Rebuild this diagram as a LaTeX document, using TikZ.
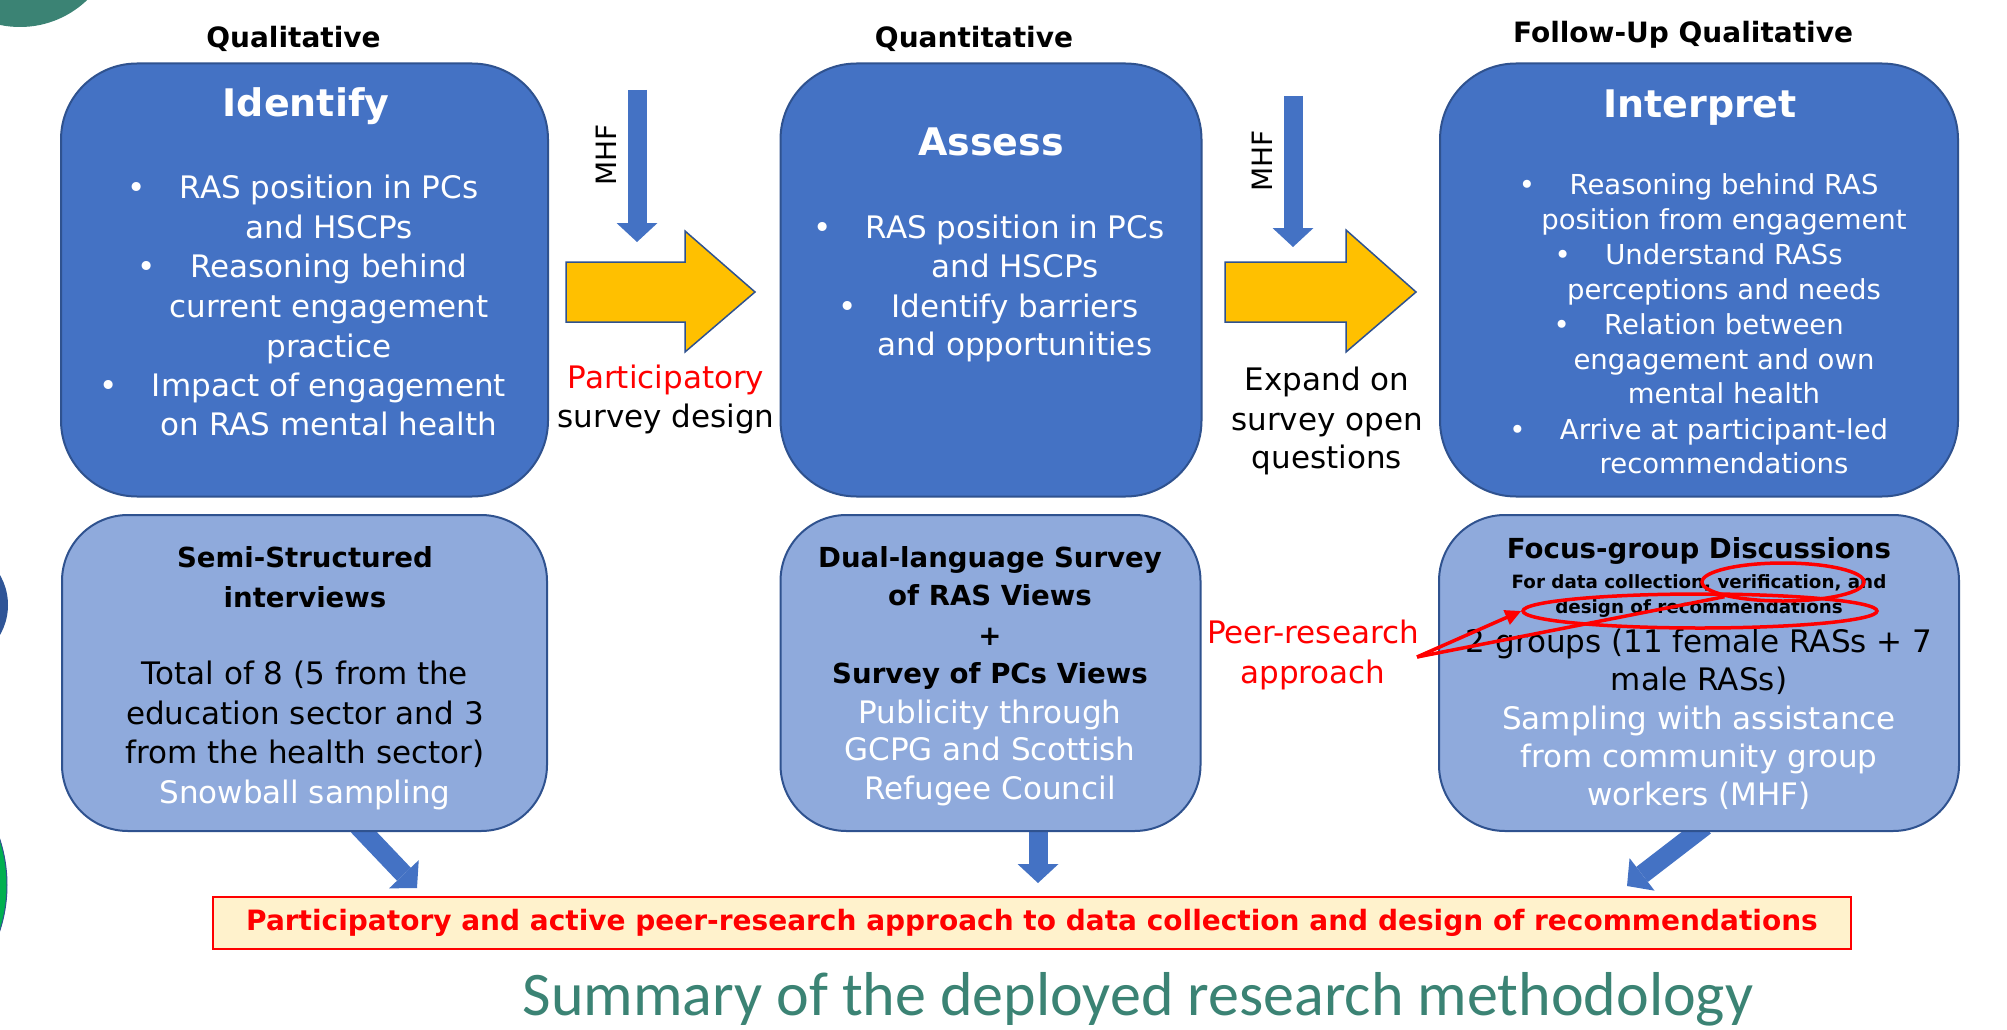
\documentclass[tikz,border=0pt]{standalone}
\usepackage{fontspec}
\setmainfont{DejaVu Sans}
\newfontfamily\carl{Carlito}
\usetikzlibrary{shapes.geometric,arrows.meta}
\definecolor{topblue}{HTML}{4472C4}
\definecolor{botblue}{HTML}{8FAADC}
\definecolor{edgeblue}{HTML}{2F528F}
\definecolor{gold}{HTML}{FFC000}
\definecolor{cream}{HTML}{FFF2CC}
\definecolor{tealc}{HTML}{3B8374}
\definecolor{pred}{HTML}{FF0000}
\definecolor{darkblue}{HTML}{2F5597}
\definecolor{greenc}{HTML}{00B050}
\newcommand\fs[1]{\fontsize{#1}{#1}\selectfont}
\tikzset{
 topbox/.style={draw=edgeblue, line width=2pt, fill=topblue, rounded corners=76pt, inner sep=0pt},
 botbox/.style={draw=edgeblue, line width=2pt, fill=botblue, rounded corners=66pt, inner sep=0pt},
 tx/.style={inner sep=0pt, anchor=base},
 wbody/.style={tx, text=white, font=\fs{31}},
 kbody/.style={tx, text=black, font=\fs{31}},
 ibody/.style={tx, text=white, font=\fs{27.5}},
 wtitle/.style={tx, text=white, font=\fs{38}\bfseries},
 headtxt/.style={tx, text=black, font=\fs{28}\bfseries},
 kbold/.style={tx, text=black, font=\fs{27.6}\bfseries},
 ksmall/.style={tx, text=black, font=\fs{18.3}\bfseries},
 rbody/.style={tx, text=pred, font=\fs{31}},
 bul/.style={tx, anchor=base east, xshift=-34pt},
 yarrow/.style={draw=edgeblue, line width=1.5pt, fill=gold, line join=miter},
 barrow/.style={draw=topblue, line width=19pt, -{Triangle[length=19pt,width=41pt,line width=0pt]}},
 rline/.style={draw=pred, line width=3.5pt},
 rell/.style={ellipse, draw=pred, line width=3.5pt, inner sep=0pt},
}
\begin{document}
\begin{tikzpicture}[x=1pt,y=-1pt]
\useasboundingbox (0,0) rectangle (2007,1030);
\fill[white] (0,0) rectangle (2007,1030);
% decorative partial circles
\fill[tealc] (20,-70) circle[radius=97pt];
\fill[darkblue] (-52,605) circle[radius=60pt];
\filldraw[fill=greenc, draw=edgeblue, line width=1pt] (-141,885) circle[radius=148pt];

% connector coordinates
\coordinate (m1s) at (637,90);
\coordinate (m1e) at (637,242);
\coordinate (m2s) at (1293,96);
\coordinate (m2e) at (1293,247);
\coordinate (las) at (358,826);
\coordinate (lae) at (417,888);
\coordinate (mas) at (1038,826);
\coordinate (mae) at (1038,883);
\coordinate (ras) at (1705,826);
\coordinate (rae) at (1627,886);

% bottom blue arrows (behind boxes)
\draw[barrow] (las) -- (lae);
\draw[barrow] (mas) -- (mae);
\draw[barrow] (ras) -- (rae);

% headers
\node[headtxt] (hq1) at (293.5,48) {Qualitative};
\node[headtxt] (hq2) at (974,48) {Quantitative};
\node[headtxt] (hq3) at (1683,43) {Follow-Up Qualitative};

% boxes
\node[topbox, minimum width=487pt, minimum height=433pt] (idb) at (304.5,280) {};
\node[topbox, minimum width=421pt, minimum height=433pt] (asb) at (991,280) {};
\node[topbox, minimum width=518pt, minimum height=433pt] (inb) at (1699,280) {};
\node[botbox, minimum width=485pt, minimum height=316pt] (ssb) at (304.5,673) {};
\node[botbox, minimum width=420pt, minimum height=316pt] (dlb) at (990.5,673) {};
\node[botbox, minimum width=520pt, minimum height=316pt] (fgb) at (1699,673) {};

% Identify
\node[wtitle] (idt) at (306,117) {Identify};
\node[wbody] (i1) at (329,198) {RAS position in PCs};
\node[wbody] (i2) at (329,238) {and HSCPs};
\node[wbody] (i3) at (329,277) {Reasoning behind};
\node[wbody] (i4) at (329,317) {current engagement};
\node[wbody] (i5) at (329,357) {practice};
\node[wbody] (i6) at (329,396) {Impact of engagement};
\node[wbody] (i7) at (329,435) {on RAS mental health};
\node[bul, text=white, font=\fs{31}] (ib1) at (i1.base west) {•};
\node[bul, text=white, font=\fs{31}] (ib2) at (i3.base west) {•};
\node[bul, text=white, font=\fs{31}] (ib3) at (i6.base west) {•};

% Assess
\node[wtitle] (ast) at (991,155) {Assess};
\node[wbody] (a1) at (1015,238) {RAS position in PCs};
\node[wbody] (a2) at (1015,277) {and HSCPs};
\node[wbody] (a3) at (1015,317) {Identify barriers};
\node[wbody] (a4) at (1015,355) {and opportunities};
\node[bul, text=white, font=\fs{31}] (ab1) at (a1.base west) {•};
\node[bul, text=white, font=\fs{31}] (ab2) at (a3.base west) {•};

% Interpret
\node[wtitle] (int) at (1700,118) {Interpret};
\node[ibody] (p1) at (1724,194) {Reasoning behind RAS};
\node[ibody] (p2) at (1724,229) {position from engagement};
\node[ibody] (p3) at (1724,264) {Understand RASs};
\node[ibody] (p4) at (1724,299) {perceptions and needs};
\node[ibody] (p5) at (1724,334) {Relation between};
\node[ibody] (p6) at (1724,369) {engagement and own};
\node[ibody] (p7) at (1724,403) {mental health};
\node[ibody] (p8) at (1724,439) {Arrive at participant-led};
\node[ibody] (p9) at (1724,473) {recommendations};
\node[bul, text=white, font=\fs{27.5}] (pb1) at (p1.base west) {•};
\node[bul, text=white, font=\fs{27.5}] (pb2) at (p3.base west) {•};
\node[bul, text=white, font=\fs{27.5}] (pb3) at (p5.base west) {•};
\node[bul, text=white, font=\fs{27.5}] (pb4) at (p8.base west) {•};

% Semi-structured
\node[kbold] (s1) at (305,567) {Semi-Structured};
\node[kbold] (s2) at (305,607) {interviews};
\node[kbody] (s3) at (305,684) {Total of 8 (5 from the};
\node[kbody] (s4) at (305,724) {education sector and 3};
\node[kbody] (s5) at (305,763) {from the health sector)};
\node[wbody] (s6) at (305,803) {Snowball sampling};

% Dual-language
\node[kbold] (d1) at (990,567) {Dual-language Survey};
\node[kbold] (d2) at (990,605) {of RAS Views};
\node[kbold] (d3) at (990,645) {+};
\node[kbold] (d4) at (990,683) {Survey of PCs Views};
\node[wbody] (d5) at (990,723) {Publicity through};
\node[wbody] (d6) at (990,760) {GCPG and Scottish};
\node[wbody] (d7) at (990,799) {Refugee Council};

% Focus group
\node[kbold] (f1) at (1699,558) {Focus-group Discussions};
\node[ksmall] (f2) at (1699,588) {For data collection, verification, and};
\node[ksmall] (f3) at (1699,613) {design of recommendations};
\node[kbody] (f4) at (1699,652) {2 groups (11 female RASs + 7};
\node[kbody] (f5) at (1699,690) {male RASs)};
\node[wbody] (f6) at (1699,729) {Sampling with assistance};
\node[wbody] (f7) at (1699,767) {from community group};
\node[wbody] (f8) at (1699,805) {workers (MHF)};

% yellow block arrows
\filldraw[yarrow] (566,262) -- (685,262) -- (685,231) -- (755,292) -- (685,352) -- (685,322) -- (566,322) -- cycle;
\filldraw[yarrow] (1225,262) -- (1346,262) -- (1346,230) -- (1416,292) -- (1346,352) -- (1346,322) -- (1225,322) -- cycle;

% MHF arrows
\draw[barrow] (m1s) -- (m1e);
\draw[barrow] (m2s) -- (m2e);
\node[inner sep=0pt, rotate=90, font=\fs{28}] (mhf1) at (606,155) {MHF};
\node[inner sep=0pt, rotate=90, font=\fs{28}] (mhf2) at (1262,161) {MHF};

% labels between boxes
\node[rbody] (ps1) at (666,388) {Participatory};
\node[kbody] (ps2) at (666,427) {survey design};
\node[kbody] (ex1) at (1327,390) {Expand on};
\node[kbody] (ex2) at (1327,430) {survey open};
\node[kbody] (ex3) at (1327,468) {questions};
\node[rbody] (pr1) at (1313,643) {Peer-research};
\node[rbody] (pr2) at (1313,683) {approach};

% banner and title
\node[draw=pred, line width=2.5pt, fill=cream, minimum width=1638pt, minimum height=52pt, inner sep=0pt, text=pred, font=\fs{28}\bfseries] (ban) at (1032,923) {Participatory and active peer-research approach to data collection and design of recommendations};
\node[tx, text=tealc, font=\carl\fs{62}] (ttl) at (1138,1015) {Summary of the deployed research methodology};

% red annotations
\coordinate (prs) at (1417,657);
\node[rell, minimum width=354pt, minimum height=34pt] (el2) at (1700,611) {};
\node[rell, minimum width=162pt, minimum height=38pt] (el1) at (1783,582) {};
\draw[rline, -{Triangle[length=16pt,width=15pt]}] (prs) -- (el2.west);
\draw[rline] (prs) -- (el1.south west);
\end{tikzpicture}
\end{document}
